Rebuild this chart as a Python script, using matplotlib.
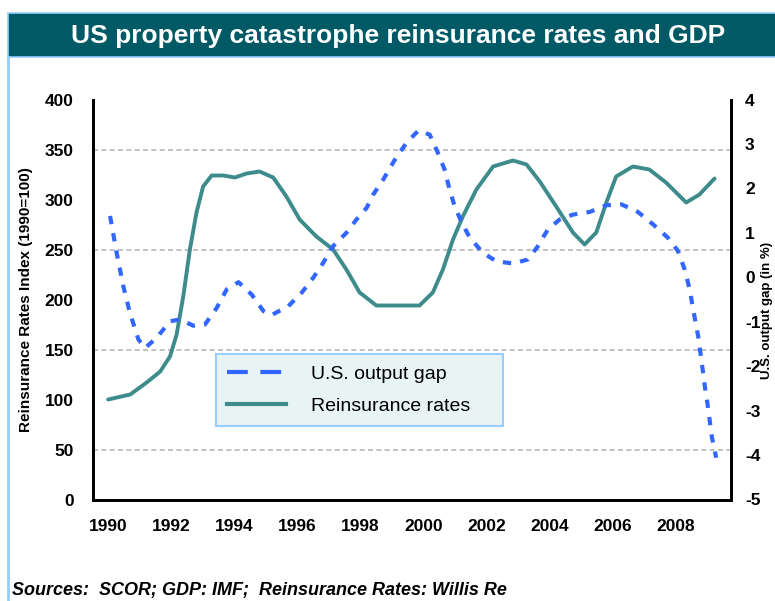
import numpy as np
import matplotlib
matplotlib.use('Agg')
from matplotlib import pyplot as plt
from matplotlib.patches import Rectangle
from matplotlib.lines import Line2D

# reinsurance rates index (1990=100)
rate_year = [1990.0, 1990.7, 1991.22, 1991.65, 1991.96, 1992.17, 1992.38, 1992.59,
             1992.8, 1993.01, 1993.28, 1993.65, 1994.02, 1994.39, 1994.8, 1995.23,
             1995.65, 1996.07, 1996.6, 1997.13, 1997.55, 1997.97, 1998.5, 1999.87,
             2000.29, 2000.61, 2000.93, 2001.24, 2001.67, 2002.2, 2002.83, 2003.26,
             2003.68, 2004.2, 2004.73, 2005.1, 2005.47, 2005.79, 2006.1, 2006.63,
             2007.15, 2007.68, 2008.32, 2008.74, 2009.22]
rate_val = [100, 105, 117, 128, 143, 165, 203, 250,
            287, 313, 324, 324, 322, 326, 328, 322,
            303, 280, 263, 250, 230, 207, 194, 194,
            207, 230, 260, 283, 310, 333, 339, 335,
            318, 293, 267, 255, 267, 297, 323, 333,
            330, 317, 297, 305, 321]

# US output gap (%)
gap_year = [1990.06, 1990.27, 1990.48, 1990.69, 1990.96, 1991.17, 1991.54, 1991.96,
            1992.28, 1992.7, 1993.07, 1993.44, 1993.76, 1994.13, 1994.55, 1994.92,
            1995.18, 1995.71, 1996.13, 1996.5, 1996.82, 1997.13, 1997.55, 1997.87,
            1998.19, 1998.4, 1998.72, 1999.09, 1999.46, 1999.83, 2000.19, 2000.45,
            2000.66, 2000.82, 2000.98, 2001.19, 2001.46, 2001.88, 2002.3, 2002.83,
            2003.3, 2003.62, 2003.94, 2004.31, 2004.73, 2005.26, 2005.79, 2006.27,
            2006.79, 2007.27, 2007.74, 2008.06, 2008.27, 2008.43, 2008.54, 2008.7,
            2008.8, 2008.91, 2009.02, 2009.13, 2009.27]
gap_val = [1.38, 0.55, -0.2, -0.8, -1.4, -1.59, -1.36, -0.99,
           -0.95, -1.09, -1.06, -0.69, -0.27, -0.11, -0.39, -0.76,
           -0.85, -0.65, -0.35, -0.01, 0.33, 0.7, 1.0, 1.3,
           1.56, 1.86, 2.2, 2.65, 3.03, 3.3, 3.21, 2.8,
           2.43, 1.98, 1.6, 1.26, 0.89, 0.55, 0.36, 0.31,
           0.4, 0.7, 1.08, 1.3, 1.41, 1.47, 1.62, 1.64,
           1.47, 1.19, 0.89, 0.59, 0.18, -0.27, -0.72, -1.33,
           -1.85, -2.45, -2.97, -3.58, -4.06]

year_ticks = [1990, 1992, 1994, 1996, 1998, 2000, 2002, 2004, 2006, 2008]
left_ticks = [0, 50, 100, 150, 200, 250, 300, 350, 400]
right_ticks = [-5, -4, -3, -2, -1, 0, 1, 2, 3, 4]
grid_vals = [50, 150, 250, 350]

plt.rcParams['font.family'] = ['Liberation Sans', 'DejaVu Sans']
plt.rcParams['axes.unicode_minus'] = False

teal = '#3d8b8b'
blue = '#3366ff'

fig = plt.figure(figsize=(7.75, 6.01), dpi=100)
W, H = 775, 601

# header bar and frame
fig.patches.append(Rectangle((8 / W, 1 - 57 / H), 1, 44 / H, transform=fig.transFigure,
                             facecolor='#005a66', edgecolor='#99ccff', lw=1.2))
fig.add_artist(Line2D([8 / W, 8 / W], [0, 1 - 57 / H], transform=fig.transFigure,
                      color='#99ccff', lw=2))
fig.text(398 / W, 1 - 36 / H, 'US property catastrophe reinsurance rates and GDP',
         color='white', fontsize=19, fontweight='bold', ha='center', va='center')

ax = fig.add_axes([93 / W, (H - 499.5) / H, 638 / W, 400 / H])
ax2 = ax.twinx()

for g in grid_vals:
    ax.axhline(g, color='#b8b8b8', lw=1.2, ls=(0, (3, 2)), zorder=0)

l1, = ax.plot(rate_year, rate_val, color=teal, lw=2.8, solid_capstyle='round')
l2, = ax2.plot(gap_year, gap_val, color=blue, lw=3, ls=(0, (2, 2.2)))

ax.set_xlim(1989.52, 2009.74)
ax.set_ylim(0, 400)
ax2.set_ylim(-5, 4)

ax.set_xticks(year_ticks)
ax.set_yticks(left_ticks)
ax2.set_yticks(right_ticks)
ax.tick_params(length=0, labelsize=12.5, pad=14)
ax2.tick_params(length=0, labelsize=12.5, pad=10)
for lab in ax.get_xticklabels() + ax.get_yticklabels() + ax2.get_yticklabels():
    lab.set_fontweight('bold')

for a in (ax, ax2):
    a.spines['top'].set_visible(False)
    for s in ('left', 'right', 'bottom'):
        a.spines[s].set_linewidth(2)
        a.spines[s].set_color('black')

ax.set_ylabel('Reinsurance Rates Index (1990=100)', fontsize=11, fontweight='bold', labelpad=8)
fig.text(767 / W, 1 - 310 / H, 'U.S. output gap (in %)', fontsize=9.5, fontweight='bold',
         rotation=90, ha='center', va='center')

leg_handles = [Line2D([], [], color=blue, lw=3, ls=(0, (5, 3))),
               Line2D([], [], color=teal, lw=3)]
leg = ax2.legend(leg_handles, ['U.S. output gap', 'Reinsurance rates'],
                 loc='lower left', bbox_to_anchor=(0.177, 0.159, 0.481, 0.207), mode='expand',
                 fontsize=14, handlelength=3.0, handletextpad=1.3, labelspacing=0.7,
                 borderpad=0.6, fancybox=False, framealpha=1)
leg.get_frame().set_facecolor('#e8f4f4')
leg.get_frame().set_edgecolor('#99ccff')
leg.get_frame().set_linewidth(1.5)

fig.text(12 / W, 1 - 590 / H, 'Sources:  SCOR; GDP: IMF;  Reinsurance Rates: Willis Re',
         fontsize=13, fontstyle='italic', fontweight='bold', ha='left', va='center')

plt.savefig('out.png', dpi=100)
